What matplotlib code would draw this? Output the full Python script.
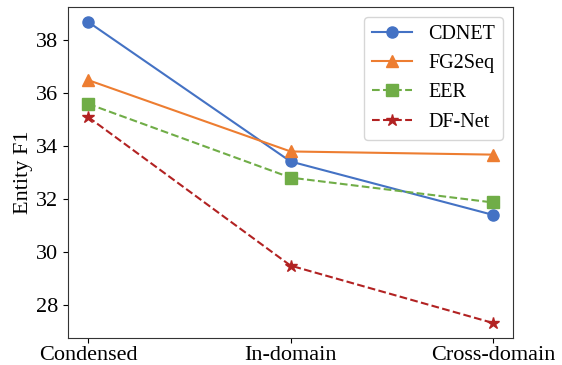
import matplotlib
matplotlib.use("Agg")
import matplotlib.pyplot as plt

plt.rcParams['font.family'] = ['Liberation Serif', 'DejaVu Serif']
plt.rcParams['mathtext.fontset'] = 'stix'

categories = ["Condensed", "In-domain", "Cross-domain"]
cdnet = [38.70, 33.42, 31.40]
fg2seq = [36.50, 33.80, 33.68]
eer = [35.60, 32.81, 31.87]
dfnet = [35.10, 29.48, 27.31]

fig = plt.figure(figsize=(5.62, 3.65), dpi=100)
ax = fig.add_axes([0.121, 0.074, 0.792, 0.907])
x = range(len(categories))
ax.plot(x, cdnet, color='#4472C4', linestyle='-', marker='o', markersize=8, linewidth=1.5, label='CDNET')
ax.plot(x, fg2seq, color='#ED7D31', linestyle='-', marker='^', markersize=8, linewidth=1.5, label='FG2Seq')
ax.plot(x, eer, color='#70AD47', linestyle='--', marker='s', markersize=8, linewidth=1.5, label='EER')
ax.plot(x, dfnet, color='#B22222', linestyle='--', marker='*', markersize=9, linewidth=1.5, label='DF-Net')
ax.set_xticks(list(x))
ax.set_xticklabels(categories, fontsize=16)
ax.tick_params(axis='x', pad=2)
ax.set_yticks([28, 30, 32, 34, 36, 38])
ax.tick_params(axis='y', labelsize=16)
ax.set_ylabel("Entity F1", fontsize=16, labelpad=2)
ax.legend(loc='upper right', fontsize=14.5)
for s in ax.spines.values():
    s.set_color('#333333')
fig.savefig('out.png', dpi=100)
plt.close()
